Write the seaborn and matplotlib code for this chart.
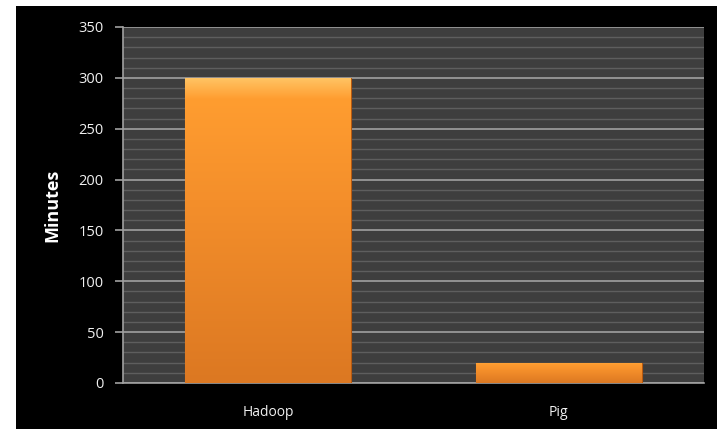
import matplotlib
matplotlib.use("Agg")
import matplotlib.pyplot as plt
import seaborn as sns
import numpy as np
import pandas as pd
from matplotlib.patches import Rectangle
from matplotlib.colors import LinearSegmentedColormap

categories = ["Hadoop", "Pig"]
minutes = [300, 20]
yticks = [0, 50, 100, 150, 200, 250, 300, 350]

df = pd.DataFrame({"tool": categories, "minutes": minutes})

sns.set_theme(style="dark")
plt.rcParams['font.family'] = ['Open Sans', 'DejaVu Sans']

fig = plt.figure(figsize=(7.17, 4.29), dpi=100, facecolor="white")
fig.patches.append(Rectangle((16/717, 0), 1 - 16/717, (429-6)/429,
                             transform=fig.transFigure, facecolor="black",
                             edgecolor="none", zorder=-10))
ax = fig.add_axes([123/717, 46/429, (704-123)/717, (383-27)/429])
ax.set_facecolor("#3e3e3e")

sns.barplot(data=df, x="tool", y="minutes", color="#F7922B", width=0.57,
            ax=ax, zorder=3, saturation=1)

cmap = LinearSegmentedColormap.from_list(
    "o", [(0.0, "#DC7822"), (0.6, "#F48F2B"), (0.93, "#FF9D30"), (1.0, "#FFC565")])
for p in ax.patches:
    x0, y0 = p.get_x(), p.get_y()
    w, h = p.get_width(), p.get_height()
    grad = np.linspace(0, 1, 256).reshape(-1, 1)
    im = ax.imshow(grad, extent=[x0, x0 + w, y0, y0 + h], origin="lower",
                   aspect="auto", cmap=cmap, zorder=4, vmin=0, vmax=1)
    im.set_clip_path(p)
    p.set_edgecolor("#B85A10")
    p.set_linewidth(0.8)

ax.set_xlim(-0.5, 1.5)
ax.set_ylim(0, 350)
ax.set_yticks(yticks)
ax.set_yticks(np.arange(0, 351, 10), minor=True)
ax.grid(axis="y", which="minor", color="#5e5e5e", linewidth=1.0, zorder=1)
ax.grid(axis="y", which="major", color="#a0a0a0", linewidth=1.2, zorder=2)
ax.grid(axis="x", visible=False)
ax.set_axisbelow(True)

for s in ["top", "right"]:
    ax.spines[s].set_visible(False)
ax.spines["left"].set_visible(True)
ax.spines["left"].set_color("#a0a0a0")
ax.spines["bottom"].set_visible(True)
ax.spines["bottom"].set_color("#a0a0a0")
ax.spines["left"].set_linewidth(1.2)
ax.spines["bottom"].set_linewidth(1.2)

ax.tick_params(axis="y", which="major", direction="out", length=6, color="#a0a0a0",
               width=1.2, left=True, labelcolor="#f0f0f0", labelsize=10.5, pad=8)
ax.tick_params(axis="y", which="minor", length=0)
ax.tick_params(axis="x", length=0, labelcolor="#f0f0f0", labelsize=10, pad=16)

ax.set_xlabel("")
ax.set_ylabel("Minutes", color="white", fontsize=13, fontweight="bold", labelpad=12)

fig.savefig("out.png", dpi=100, facecolor="white")
